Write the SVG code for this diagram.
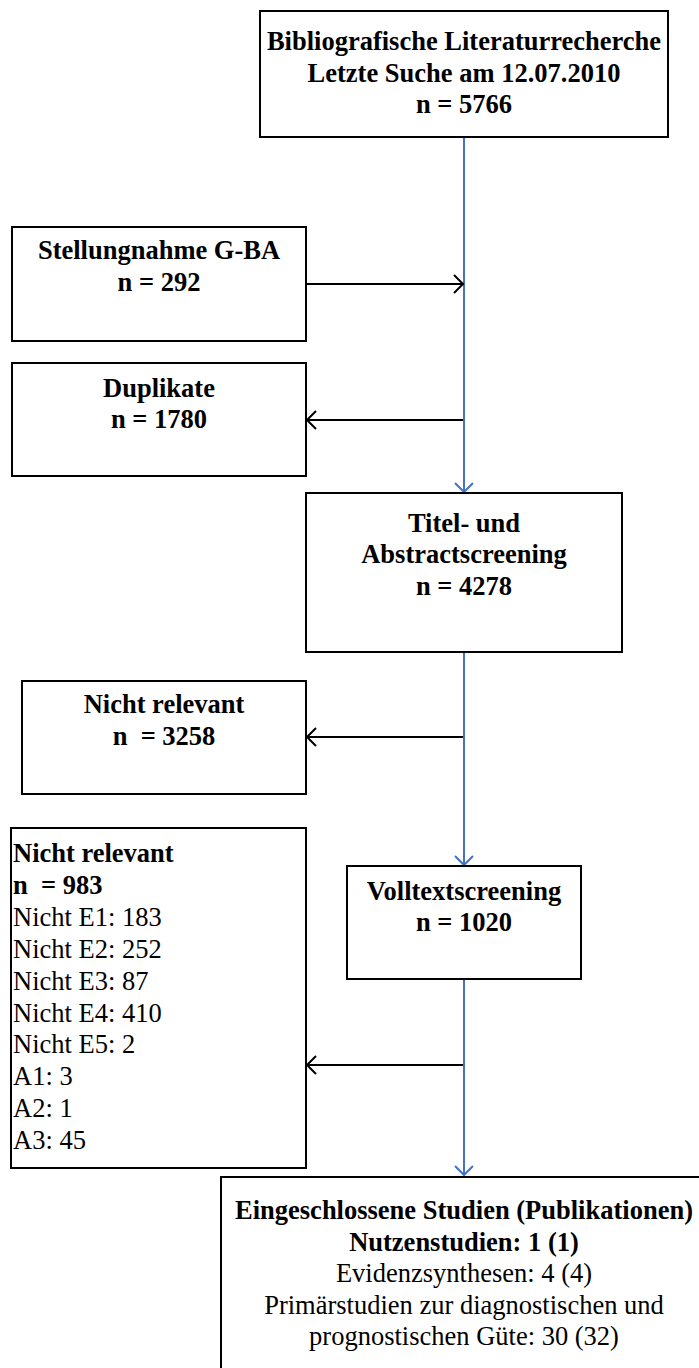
<svg xmlns="http://www.w3.org/2000/svg" width="699" height="1368" viewBox="0 0 699 1368">
<style>
.box{fill:#fff;stroke:#000;stroke-width:2}
.t{font-family:"Liberation Serif","Times New Roman",serif;font-size:26.5px;fill:#000;white-space:pre}
.b{font-weight:bold}
.c{text-anchor:middle}
.blk{stroke:#000;stroke-width:2;fill:none}
.blu{stroke:#4472C4;stroke-width:2;fill:none}
</style>
<defs>
<marker id="ab" markerUnits="userSpaceOnUse" markerWidth="24" markerHeight="24" viewBox="-12 -12 24 24" refX="0" refY="0" orient="auto">
<path d="M-9,-9 L0,0 L-9,9" fill="none" stroke="#000" stroke-width="2"/>
</marker>
<marker id="au" markerUnits="userSpaceOnUse" markerWidth="24" markerHeight="24" viewBox="-12 -12 24 24" refX="0" refY="0" orient="auto">
<path d="M-9,-9 L0,0 L-9,9" fill="none" stroke="#4472C4" stroke-width="2"/>
</marker>
</defs>
<g id="connectors">
<line class="blu" x1="464" y1="137" x2="464" y2="492" marker-end="url(#au)"/>
<line class="blu" x1="464" y1="652" x2="464" y2="865" marker-end="url(#au)"/>
<line class="blu" x1="464" y1="979" x2="464" y2="1175" marker-end="url(#au)"/>
<line class="blk" x1="306" y1="284" x2="463" y2="284" marker-end="url(#ab)"/>
<line class="blk" x1="463" y1="420" x2="307" y2="420" marker-end="url(#ab)"/>
<line class="blk" x1="463" y1="737" x2="307" y2="737" marker-end="url(#ab)"/>
<line class="blk" x1="463" y1="1065" x2="307" y2="1065" marker-end="url(#ab)"/>
</g>
<g id="n1">
<rect class="box" x="260" y="11" width="408" height="126"/>
<text class="t b c" x="464" y="50">Bibliografische Literaturrecherche</text>
<text class="t b c" x="464" y="81.7">Letzte Suche am 12.07.2010</text>
<text class="t b c" x="464" y="113.3">n = 5766</text>
</g>
<g id="n2">
<rect class="box" x="12" y="227" width="294" height="114"/>
<text class="t b c" x="159" y="259">Stellungnahme G-BA</text>
<text class="t b c" x="159" y="291">n = 292</text>
</g>
<g id="n3">
<rect class="box" x="12" y="363" width="294" height="113"/>
<text class="t b c" x="159" y="396.5">Duplikate</text>
<text class="t b c" x="159" y="428">n = 1780</text>
</g>
<g id="n4">
<rect class="box" x="306" y="493" width="316" height="159"/>
<text class="t b c" x="464" y="531.7">Titel- und</text>
<text class="t b c" x="464" y="563.3">Abstractscreening</text>
<text class="t b c" x="464" y="595">n = 4278</text>
</g>
<g id="n5">
<rect class="box" x="22" y="681" width="284" height="113"/>
<text class="t b c" x="164" y="712.7">Nicht relevant</text>
<text class="t b c" x="164" y="745" xml:space="preserve">n  = 3258</text>
</g>
<g id="n6">
<rect class="box" x="11" y="828" width="295" height="340"/>
<text class="t b" x="13" y="862">Nicht relevant</text>
<text class="t b" x="13" y="893.9" xml:space="preserve">n  = 983</text>
<text class="t" x="13" y="925.8">Nicht E1: 183</text>
<text class="t" x="13" y="957.7">Nicht E2: 252</text>
<text class="t" x="13" y="989.6">Nicht E3: 87</text>
<text class="t" x="13" y="1021.5">Nicht E4: 410</text>
<text class="t" x="13" y="1053.4">Nicht E5: 2</text>
<text class="t" x="13" y="1085.3">A1: 3</text>
<text class="t" x="13" y="1117.2">A2: 1</text>
<text class="t" x="13" y="1149.1">A3: 45</text>
</g>
<g id="n7">
<rect class="box" x="347" y="866" width="234" height="113"/>
<text class="t b c" x="464" y="900">Volltextscreening</text>
<text class="t b c" x="464" y="931">n = 1020</text>
</g>
<g id="n8">
<rect class="box" x="221" y="1177" width="486" height="220"/>
<text class="t b c" x="464" y="1219">Eingeschlossene Studien (Publikationen)</text>
<text class="t b c" x="464" y="1250.5">Nutzenstudien: 1 (1)</text>
<text class="t c" x="464" y="1282">Evidenzsynthesen: 4 (4)</text>
<text class="t c" x="464" y="1313.5">Primärstudien zur diagnostischen und</text>
<text class="t c" x="464" y="1345">prognostischen Güte: 30 (32)</text>
</g>
</svg>
